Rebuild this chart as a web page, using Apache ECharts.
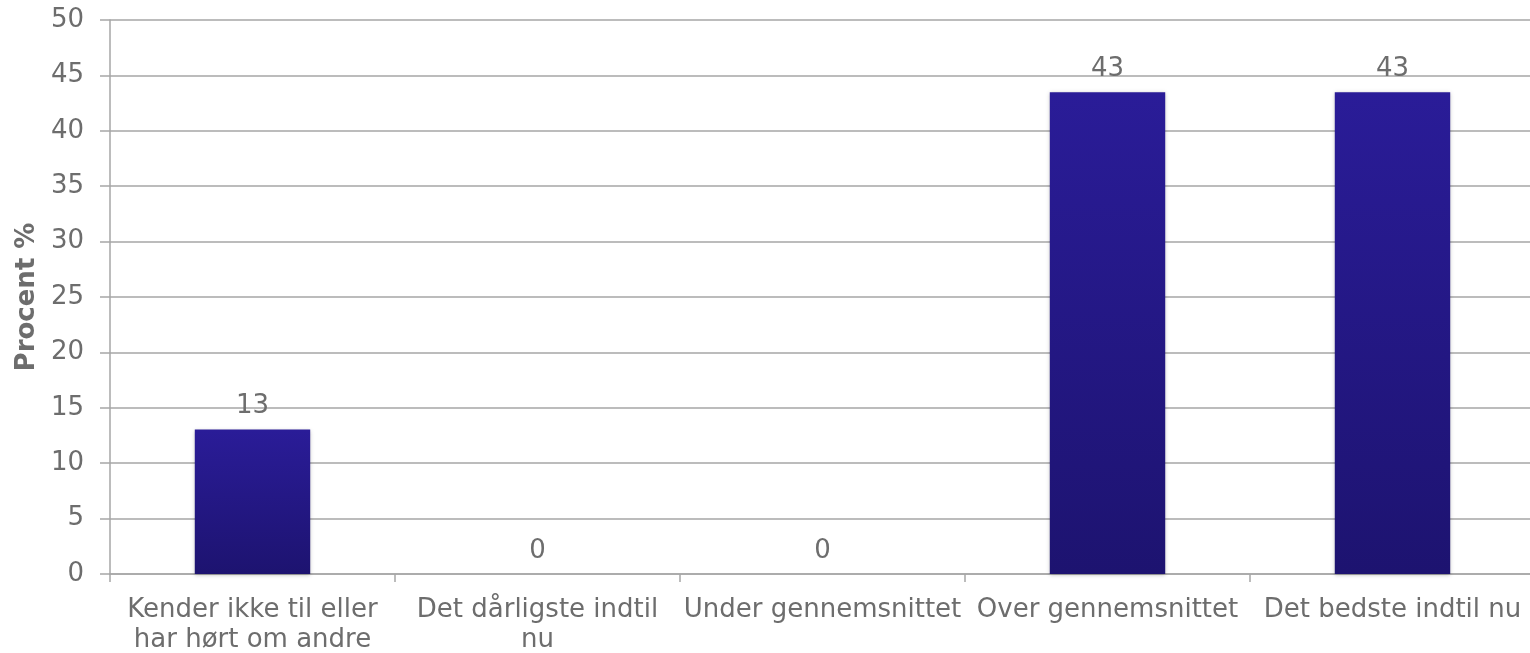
<!DOCTYPE html>
<html><head><meta charset="utf-8">
<script src="https://cdn.jsdelivr.net/npm/echarts@6/dist/echarts.min.js"></script>
<style>html,body{margin:0;padding:0;background:#fff}#c{width:1530px;height:653px}</style>
</head><body><div id="c"></div>
<script>
const categories = ["Kender ikke til eller\nhar hørt om andre", "Det dårligste indtil\nnu", "Under gennemsnittet", "Over gennemsnittet", "Det bedste indtil nu"];
const values = [13.04, 0, 0, 43.48, 43.48];
const yTicks = {min: 0, max: 50, interval: 5};
const yName = "Procent %";

const chart = echarts.init(document.getElementById('c'), null, {renderer: 'canvas'});
const txt = '#6d6d6d', line = '#a6a6a6';
chart.setOption({
  animation: false,
  grid: {left: 110, width: 1425, top: 20, height: 554, containLabel: false, outerBoundsMode: 'none'},
  xAxis: {
    type: 'category', data: categories,
    axisLine: {lineStyle: {color: line, width: 1.5}},
    axisTick: {show: true, length: 8, lineStyle: {color: line, width: 1.5}},
    axisLabel: {color: txt, fontFamily: 'DejaVu Sans', fontSize: 26, lineHeight: 30, margin: 21, interval: 0}
  },
  yAxis: {
    type: 'value', min: yTicks.min, max: yTicks.max, interval: yTicks.interval,
    name: yName, nameLocation: 'middle', nameGap: 63, nameRotate: 90,
    nameTextStyle: {color: txt, fontFamily: 'DejaVu Sans', fontSize: 26, fontWeight: 'bold'},
    axisLine: {show: true, lineStyle: {color: line, width: 1.5}},
    axisTick: {show: true, length: 10, lineStyle: {color: line, width: 1.5}},
    axisLabel: {color: txt, fontFamily: 'DejaVu Sans', fontSize: 26, margin: 26},
    splitLine: {lineStyle: {color: line, width: 1.5}}
  },
  series: [{
    type: 'bar', data: values, barWidth: '40.5%',
    itemStyle: {
      color: new echarts.graphic.LinearGradient(0, 0, 0, 1, [
        {offset: 0, color: '#2a1c98'}, {offset: 1, color: '#1d1370'}
      ]),
      shadowColor: 'rgba(0,0,0,0.25)', shadowBlur: 4, shadowOffsetY: 1
    },
    label: {show: true, position: 'top', distance: 10, color: txt, fontFamily: 'DejaVu Sans', fontSize: 26,
      formatter: p => Math.round(p.value)}
  }]
});
</script></body></html>
